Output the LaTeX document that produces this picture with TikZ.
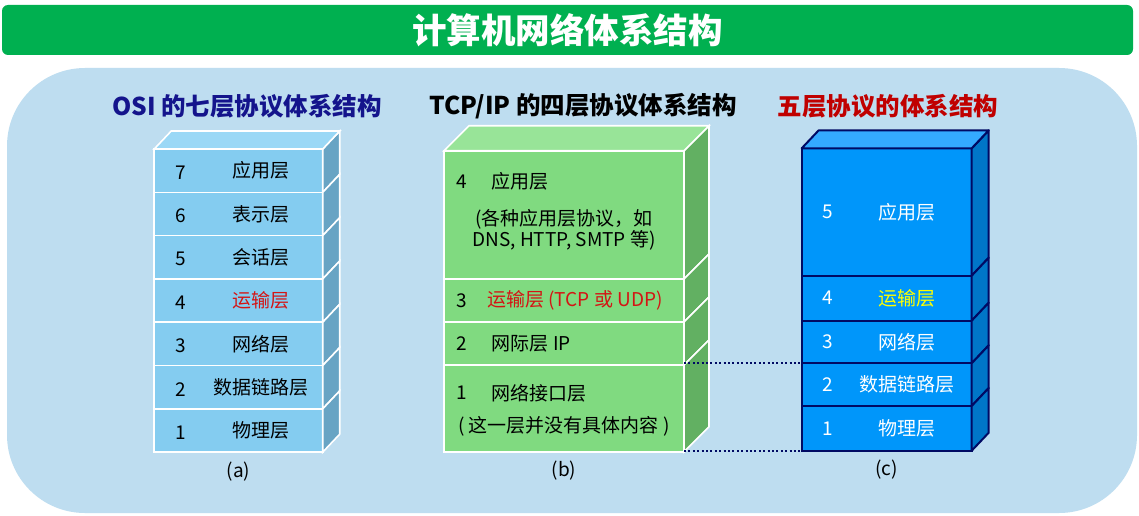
\documentclass[tikz,border=0pt]{standalone}
\usepackage{fontspec}
\setmainfont{Noto Sans CJK SC}
\usetikzlibrary{positioning}
\definecolor{titlegreen}{RGB}{0,176,80}
\definecolor{panelblue}{RGB}{190,221,240}
\definecolor{osifront}{RGB}{132,204,240}
\definecolor{ositop}{RGB}{154,216,246}
\definecolor{osiside}{RGB}{104,164,196}
\definecolor{tcpfront}{RGB}{128,218,128}
\definecolor{tcptop}{RGB}{152,228,152}
\definecolor{tcpside}{RGB}{98,176,98}
\definecolor{fivefront}{RGB}{0,150,250}
\definecolor{fivetop}{RGB}{52,170,255}
\definecolor{fiveside}{RGB}{0,118,200}
\definecolor{navyline}{RGB}{0,10,100}
\definecolor{headnavy}{RGB}{20,20,140}
\definecolor{headred}{RGB}{192,0,0}
\definecolor{layred}{RGB}{212,20,20}
\definecolor{layyellow}{RGB}{255,255,0}

\begin{document}
\begin{tikzpicture}[x=1pt, y=-1pt,
    every node/.style={font=\fontsize{19}{21}\selectfont, inner sep=0pt},
    osilay/.style={rectangle, draw=white, line width=1.6pt, fill=osifront, minimum width=168.5pt, minimum height=43.3pt, outer sep=0pt},
    tcplay/.style={rectangle, draw=white, line width=1.6pt, fill=tcpfront, minimum width=240pt, outer sep=0pt},
    fivelay/.style={rectangle, draw=navyline, line width=2pt, fill=fivefront, minimum width=170pt, outer sep=0pt},
    osiface/.style={draw=white, line width=1.6pt, fill=#1},
    fiveface/.style={draw=navyline, line width=2pt, fill=#1, line join=round},
    heading/.style={font=\fontsize{24.5}{28}\selectfont\bfseries},
    sublabel/.style={font=\fontsize{19}{21}\selectfont},
    linkdot/.style={navyline, line width=2pt, dash pattern=on 2pt off 2.4pt}
]
\useasboundingbox (0,0) rectangle (1139,516);
\fill[white] (0,0) rectangle (1139,516);

\node[fill=titlegreen, rounded corners=6pt, minimum width=1131pt, minimum height=50pt, text=white, font=\fontsize{34.5}{38}\selectfont\bfseries] (title) at (567.5,30) {计算机网络体系结构};
\fill[panelblue, rounded corners=78pt] (7,68) rectangle (1137,513);

\node[heading, text=headnavy] (osihead) at (247,106) {OSI 的七层协议体系结构};
\node[heading, text=black] (tcphead) at (583,106) {TCP/IP 的四层协议体系结构};
\node[heading, text=headred] (fivehead) at (888,106) {五层协议的体系结构};

% (a)
\foreach \n/\txt [count=\i] in {7/应用层, 6/表示层, 5/会话层, 4/{\textcolor{layred}{运输层}}, 3/网络层, 2/数据链路层, 1/物理层} {
    \node[osilay] (a\n) at (238.5,{170.65+43.3*(\i-1)}) {};
    \filldraw[osiface=osiside] (a\n.north east) -- ++(17,-18) -- ([shift={(17,-18)}]a\n.south east) -- (a\n.south east) -- cycle;
    \node (an\n) at ([xshift=27pt, yshift=-2pt]a\n.west) {\n};
    \node (at\n) at ([xshift=22pt]a\n.center) {\txt};
}
\filldraw[osiface=ositop] (a7.north west) -- ++(17,-18) -- ([shift={(17,-18)}]a7.north east) -- (a7.north east) -- cycle;
\node[sublabel] (acap) at ([yshift=-19pt]a1.south) {(a)};

% (b)
\node[tcplay, minimum height=128.3pt] (b4) at (564,214.85) {};
\node[tcplay, minimum height=43pt, below=0pt of b4] (b3) {};
\node[tcplay, minimum height=43pt, below=0pt of b3] (b2) {};
\node[tcplay, minimum height=86.7pt, below=0pt of b2] (b1) {};
\foreach \n in {4,3,2,1}
    \filldraw[osiface=tcpside] (b\n.north east) -- ++(25,-25) -- ([shift={(25,-25)}]b\n.south east) -- (b\n.south east) -- cycle;
\filldraw[osiface=tcptop] (b4.north west) -- ++(25,-25) -- ([shift={(25,-25)}]b4.north east) -- (b4.north east) -- cycle;

\node (bn4) at ([xshift=17.7pt, yshift=-31pt]b4.north west) {4};
\node[anchor=west] (bt4) at ([xshift=47.7pt, yshift=-31pt]b4.north west) {应用层};
\node[align=center] (bx4) at ([yshift=-79pt]b4.north) {(各种应用层协议，如\\DNS, HTTP, SMTP 等)};
\node (bn3) at ([xshift=17.7pt]b3.west) {3};
\node[anchor=west, text=layred] (bt3) at ([xshift=43pt]b3.west) {运输层 (TCP 或 UDP)};
\node (bn2) at ([xshift=17.7pt]b2.west) {2};
\node[anchor=west] (bt2) at ([xshift=47.7pt]b2.west) {网际层 IP};
\node (bn1) at ([xshift=17.7pt, yshift=-28pt]b1.north west) {1};
\node[anchor=west] (bt1) at ([xshift=47.7pt, yshift=-28pt]b1.north west) {网络接口层};
\node (bx1) at ([yshift=-61.7pt]b1.north) {( 这一层并没有具体内容 )};
\node[sublabel] (bcap) at ([yshift=-19pt]b1.south) {(b)};

% (c)
\node[fivelay, minimum height=127.4pt] (c5) at (886.7,212) {};
\node[fivelay, minimum height=45pt, below=0pt of c5] (c4) {};
\node[fivelay, minimum height=42.6pt, below=0pt of c4] (c3) {};
\node[fivelay, minimum height=42.7pt, below=0pt of c3] (c2) {};
\node[fivelay, minimum height=44.7pt, below=0pt of c2] (c1) {};
\foreach \n/\txt in {5/应用层, 4/{\textcolor{layyellow}{运输层}}, 3/网络层, 2/数据链路层, 1/物理层} {
    \filldraw[fiveface=fiveside] (c\n.north east) -- ++(17,-18) -- ([shift={(17,-18)}]c\n.south east) -- (c\n.south east) -- cycle;
    \node[text=white] (cn\n) at ([xshift=26.3pt]c\n.west) {\n};
    \node[text=white] (ct\n) at ([xshift=20pt]c\n.center) {\txt};
}
\filldraw[fiveface=fivetop] (c5.north west) -- ++(17,-18) -- ([shift={(17,-18)}]c5.north east) -- (c5.north east) -- cycle;
\node[sublabel] (ccap) at ([yshift=-19pt]c1.south) {(c)};

\draw[linkdot] (c2.north west -| b1.east) -- (c2.north west);
\draw[linkdot] (c1.south west -| b1.east) -- (c1.south west);

\end{tikzpicture}
\end{document}
